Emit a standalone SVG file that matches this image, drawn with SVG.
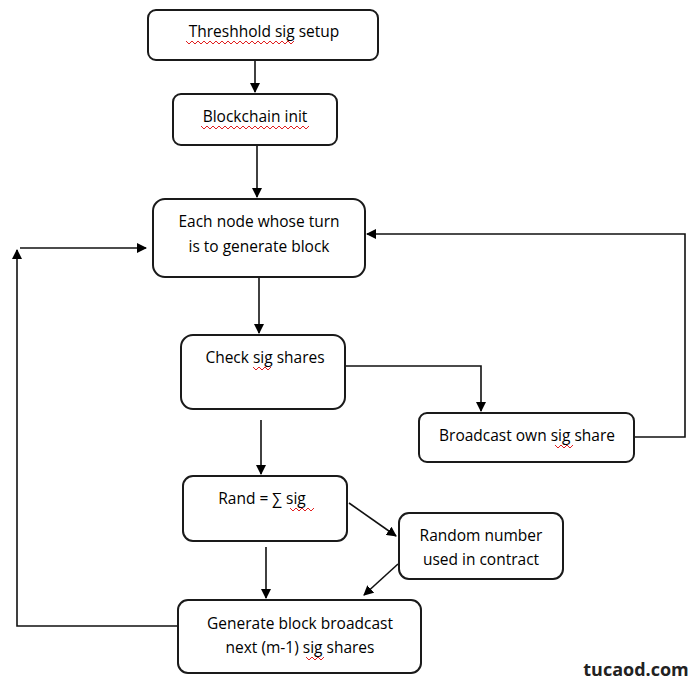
<svg xmlns="http://www.w3.org/2000/svg" width="700" height="690" viewBox="0 0 700 690">
<defs>
<marker id="ah" viewBox="0 0 10 10" refX="9" refY="5" markerWidth="10" markerHeight="10" markerUnits="userSpaceOnUse" orient="auto">
<path d="M0,0 L10,5 L0,10 z" fill="#000"/>
</marker>
<path id="sq9" d="M0,0 l3,3 l3,-3 l3,3 l3,-3 l3,3 l3,-3 l3,3 l3,-3 l3,3 l3,-3 l3,3 l3,-3"/>
</defs>
<style>
.box{fill:#fff;stroke:#1a1a1a;stroke-width:2}
.t{font-family:"Open Sans","Liberation Sans",sans-serif;font-size:15.5px;fill:#000;text-anchor:middle}
.c{fill:none;stroke:#111;stroke-width:1.6}
.sq{fill:none;stroke:#e02020;stroke-width:1}
</style>
<rect width="700" height="690" fill="#fff"/>
<g id="connectors">
<line class="c" x1="255" y1="61" x2="255" y2="92" marker-end="url(#ah)"/>
<line class="c" x1="257" y1="146" x2="257" y2="197" marker-end="url(#ah)"/>
<line class="c" x1="259" y1="278" x2="259" y2="333" marker-end="url(#ah)"/>
<polyline class="c" points="346,366 481,366 481,411" marker-end="url(#ah)"/>
<polyline class="c" points="635,437 685,437 685,234 367,234" marker-end="url(#ah)"/>
<line class="c" x1="261" y1="420" x2="261" y2="474" marker-end="url(#ah)"/>
<line class="c" x1="349" y1="503" x2="396" y2="536" marker-end="url(#ah)"/>
<line class="c" x1="398" y1="564" x2="364" y2="595" marker-end="url(#ah)"/>
<line class="c" x1="266" y1="547" x2="266" y2="598" marker-end="url(#ah)"/>
<polyline class="c" points="178,626 17,626 17,250" marker-end="url(#ah)"/>
<line class="c" x1="20" y1="248" x2="146" y2="248" marker-end="url(#ah)"/>
</g>
<g id="n1">
<rect class="box" x="148" y="10" width="230" height="50" rx="8"/>
<text class="t" x="264" y="37">Threshhold sig setup</text>
<path class="sq" d="M186,41 l3,3 l3,-3 l3,3 l3,-3 l3,3 l3,-3 l3,3 l3,-3 l3,3 l3,-3 l3,3 l3,-3 l3,3 l3,-3 l3,3 l3,-3 l3,3 l3,-3 l3,3 l3,-3 l3,3 l3,-3 l3,3 l3,-3 l3,3 l3,-3 l3,3 l3,-3 l3,3 l3,-3 l3,3 l3,-3 l3,3 l3,-3 l3,3 l3,-3"/>
</g>
<g id="n2">
<rect class="box" x="173" y="94" width="164" height="51" rx="8"/>
<text class="t" x="255" y="122">Blockchain init</text>
<path class="sq" d="M201,126 l3,3 l3,-3 l3,3 l3,-3 l3,3 l3,-3 l3,3 l3,-3 l3,3 l3,-3 l3,3 l3,-3 l3,3 l3,-3 l3,3 l3,-3 l3,3 l3,-3 l3,3 l3,-3 l3,3 l3,-3 l3,3 l3,-3 l3,3 l3,-3 l3,3 l3,-3 l3,3 l3,-3 l3,3 l3,-3 l3,3 l3,-3 l3,3 l3,-3"/>
</g>
<g id="n3">
<rect class="box" x="153" y="199" width="212" height="78" rx="12"/>
<text class="t" x="259" y="227">Each node whose turn</text>
<text class="t" x="259" y="252">is to generate block</text>
</g>
<g id="n4">
<rect class="box" x="181" y="335" width="164" height="74" rx="12"/>
<text class="t" x="265" y="363">Check sig shares</text>
<path class="sq" d="M253,367 l3,3 l3,-3 l3,3 l3,-3 l3,3 l3,-3"/>
</g>
<g id="n5">
<rect class="box" x="419" y="413" width="215" height="49" rx="8"/>
<text class="t" x="527" y="441">Broadcast own sig share</text>
<path class="sq" d="M555,445 l3,3 l3,-3 l3,3 l3,-3 l3,3 l3,-3"/>
</g>
<g id="n6">
<rect class="box" x="183" y="476" width="164" height="65" rx="10"/>
<text class="t" x="262" y="504">Rand = ∑ sig</text>
<path class="sq" d="M290,508 l3,3 l3,-3 l3,3 l3,-3 l3,3 l3,-3 l3,3 l3,-3"/>
</g>
<g id="n7">
<rect class="box" x="399" y="513" width="164" height="66" rx="10"/>
<text class="t" x="481" y="541">Random number</text>
<text class="t" x="481" y="565">used in contract</text>
</g>
<g id="n8">
<rect class="box" x="178" y="600" width="243" height="73" rx="10"/>
<text class="t" x="300" y="629">Generate block broadcast</text>
<text class="t" x="300" y="653">next (m-1) sig shares</text>
<path class="sq" d="M306,657 l3,3 l3,-3 l3,3 l3,-3 l3,3 l3,-3"/>
</g>
<text x="636" y="676" style="font-family:'Open Sans','Liberation Sans',sans-serif;font-size:18px;font-weight:bold;fill:#222;text-anchor:middle">tucaod.com</text>
</svg>
